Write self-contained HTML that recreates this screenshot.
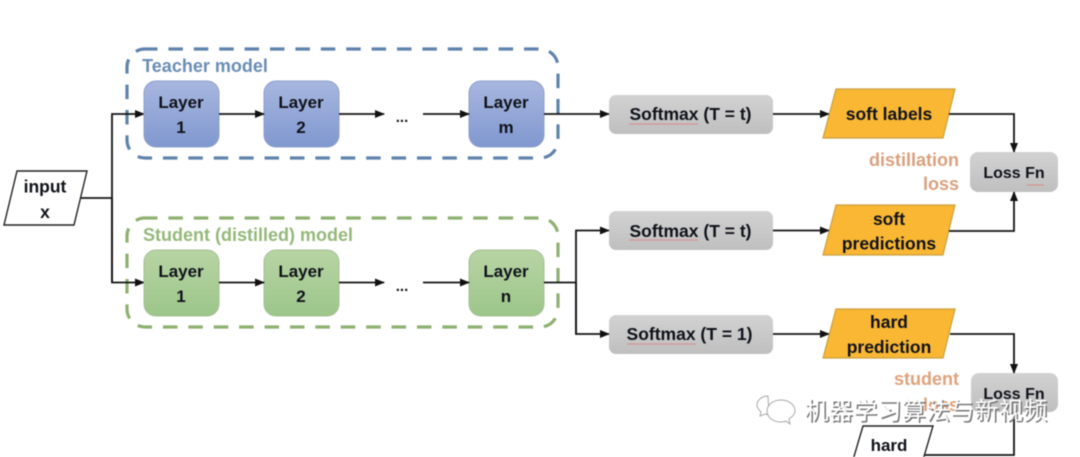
<!DOCTYPE html>
<html lang="zh">
<head>
<meta charset="utf-8">
<title>Knowledge distillation diagram</title>
<style>
html,body{margin:0;padding:0;background:#fff;width:1080px;height:457px;overflow:hidden}
svg{display:block;filter:blur(.6px)}
text{font-family:"Liberation Sans","Noto Sans CJK SC",sans-serif;font-weight:700;text-anchor:middle;fill:#10121a;font-size:17px}
.ln{fill:none;stroke:#141414;stroke-width:1.8}
.or{fill:#f9b733;stroke:#c9a040;stroke-width:1.2}
.gr{fill:url(#g)}
.sq{fill:none;stroke:#d98a8a;stroke-width:1}
.wm{font-size:24px;font-weight:400;letter-spacing:.3px}
</style>
</head>
<body>
<svg width="1080" height="457" viewBox="0 0 1080 457" xmlns="http://www.w3.org/2000/svg">
<defs>
<linearGradient id="b" x1="0" y1="0" x2="0" y2="1"><stop offset="0" stop-color="#a8b7e0"/><stop offset="1" stop-color="#8098cf"/></linearGradient>
<linearGradient id="v" x1="0" y1="0" x2="0" y2="1"><stop offset="0" stop-color="#b8d4a4"/><stop offset="1" stop-color="#9cc68a"/></linearGradient>
<linearGradient id="g" x1="0" y1="0" x2="0" y2="1"><stop offset="0" stop-color="#d2d2d2"/><stop offset="1" stop-color="#bfbfbf"/></linearGradient>
<marker id="a" markerWidth="10" markerHeight="8" refX="9" refY="4" orient="auto" markerUnits="userSpaceOnUse"><path d="M0 0L10 4L0 8Z" fill="#111"/></marker>
</defs>

<path d="M143 49H540A18 18 0 0 1 558 67V140A18 18 0 0 1 540 158H145A18 18 0 0 1 127 140V67A18 18 0 0 1 145 49" fill="none" stroke="#5f83ad" stroke-width="3.2" stroke-dasharray="14.500 10.900"/>
<path d="M143 218H540A18 18 0 0 1 558 236V309A18 18 0 0 1 540 327H145A18 18 0 0 1 127 309V236A18 18 0 0 1 145 218" fill="none" stroke="#8fb071" stroke-width="3.2" stroke-dasharray="14.500 10.900"/>
<text x="205" y="72" style="fill:#6a8db5;font-size:18px">Teacher model</text>
<text x="248" y="241" style="fill:#95b87a;font-size:18px">Student (distilled) model</text>

<polygon points="17,171 87,171 74,225 4,225" fill="#fff" stroke="#222" stroke-width="1.4"/>
<text x="45" y="192.500" style="font-size:17.500px">input</text>
<text x="45" y="218" style="font-size:17.500px">x</text>

<path class="ln" d="M81 198H112"/>
<path class="ln" d="M112 282V114H144" marker-end="url(#a)"/>
<path class="ln" d="M112 198V282.500H144" marker-end="url(#a)"/>

<rect x="144" y="81" width="75" height="66" rx="12" fill="url(#b)" stroke="#8ea0c8"/>
<rect x="264" y="81" width="75" height="66" rx="12" fill="url(#b)" stroke="#8ea0c8"/>
<rect x="469" y="81" width="75" height="66" rx="12" fill="url(#b)" stroke="#8ea0c8"/>
<rect x="144" y="250" width="75" height="66" rx="12" fill="url(#v)" stroke="#a5c095"/>
<rect x="264" y="250" width="75" height="66" rx="12" fill="url(#v)" stroke="#a5c095"/>
<rect x="469" y="250" width="75" height="66" rx="12" fill="url(#v)" stroke="#a5c095"/>

<text x="181" y="108">Layer</text><text x="181" y="133">1</text>
<text x="301" y="108">Layer</text><text x="301" y="133">2</text>
<text x="506" y="108">Layer</text><text x="506" y="133">m</text>
<text x="181" y="277">Layer</text><text x="181" y="302">1</text>
<text x="301" y="277">Layer</text><text x="301" y="302">2</text>
<text x="506" y="277">Layer</text><text x="506" y="302">n</text>

<path class="ln" d="M219 114H264" marker-end="url(#a)"/>
<path class="ln" d="M339 114H384" marker-end="url(#a)"/>
<path class="ln" d="M423 114H469" marker-end="url(#a)"/>
<path class="ln" d="M219 282.500H264" marker-end="url(#a)"/>
<path class="ln" d="M339 282.500H384" marker-end="url(#a)"/>
<path class="ln" d="M423 282.500H469" marker-end="url(#a)"/>
<text x="402" y="122" style="font-size:15px;font-weight:700">...</text>
<text x="402" y="291" style="font-size:15px;font-weight:700">...</text>

<path class="ln" d="M544 114H609" marker-end="url(#a)"/>
<path class="ln" d="M544 282.500H576"/>
<path class="ln" d="M576 334V230.500H609" marker-end="url(#a)"/>
<path class="ln" d="M576 282V334H609" marker-end="url(#a)"/>

<rect class="gr" x="609" y="95" width="164" height="39" rx="7"/>
<rect class="gr" x="609" y="211" width="164" height="39" rx="7"/>
<rect class="gr" x="609" y="315" width="164" height="39" rx="7"/>
<text x="690.500" y="120" style="font-size:17.500px">Softmax (T = t)</text>
<text x="690.500" y="237" style="font-size:17.500px">Softmax (T = t)</text>
<text x="689.500" y="340" style="font-size:17.500px">Softmax (T = 1)</text>
<path class="sq" d="M629 124H698"/><path class="sq" d="M629 240H698"/><path class="sq" d="M627 344H696"/>

<path class="ln" d="M773 114H829" marker-end="url(#a)"/>
<path class="ln" d="M773 230.500H829" marker-end="url(#a)"/>
<path class="ln" d="M773 334H829" marker-end="url(#a)"/>

<polygon class="or" points="836,89 955,89 943,138 823,138"/>
<polygon class="or" points="836,205 955,205 943,255 823,255"/>
<polygon class="or" points="836,309 955,309 943,358 823,358"/>
<text x="889" y="120" style="font-size:17.500px">soft labels</text>
<text x="889" y="225" style="font-size:17.500px">soft</text><text x="889" y="249.500" style="font-size:17.500px">predictions</text>
<text x="889" y="328" style="font-size:17.500px">hard</text><text x="889" y="353" style="font-size:17.500px">prediction</text>

<path class="ln" d="M949 114H1014V152" marker-end="url(#a)"/>
<path class="ln" d="M949 231H1014V192" marker-end="url(#a)"/>
<path class="ln" d="M950 334H1014V373" marker-end="url(#a)"/>

<rect class="gr" x="970" y="152" width="88" height="40" rx="8"/>
<rect class="gr" x="971" y="373" width="87" height="39" rx="8"/>
<text x="1014" y="178" style="font-size:16px">Loss Fn</text>
<text x="1014" y="399" style="font-size:16px">Loss Fn</text>
<path class="sq" d="M1027 185H1044"/>

<text x="959" y="166" style="fill:#d9a17f;text-anchor:end;font-size:18px">distillation</text>
<text x="959" y="190" style="fill:#d9a17f;text-anchor:end;font-size:18px">loss</text>
<text x="959" y="385" style="fill:#dfa27c;text-anchor:end;font-size:18px">student</text>
<text x="959" y="411" style="fill:#dfa27c;text-anchor:end;font-size:18px">loss</text>

<path class="ln" d="M1014 412V455H925"/>
<polygon points="863,426 933,426 920,470 850,470" fill="#fff" stroke="#222" stroke-width="1.4"/>
<text x="889" y="451">hard</text>

<g fill="#fff" stroke="#a8a8a8" stroke-width="1">
<path d="M768 396c-6 0-11 4-11 9 0 3 2 5 4 7l-1 4 5-2c1 0 3 1 4 1z"/>
<path d="M781 400c-8 0-14 5-14 11s6 11 14 11c2 0 3 0 5-1l4 3-1-5c3-2 6-5 6-8 0-6-6-11-14-11z"/>
</g>
<text class="wm" x="927.500" y="420.500" style="fill:#777">机器学习算法与新视频</text>
<text class="wm" x="926" y="419" style="fill:#fff">机器学习算法与新视频</text>
</svg>
</body>
</html>
